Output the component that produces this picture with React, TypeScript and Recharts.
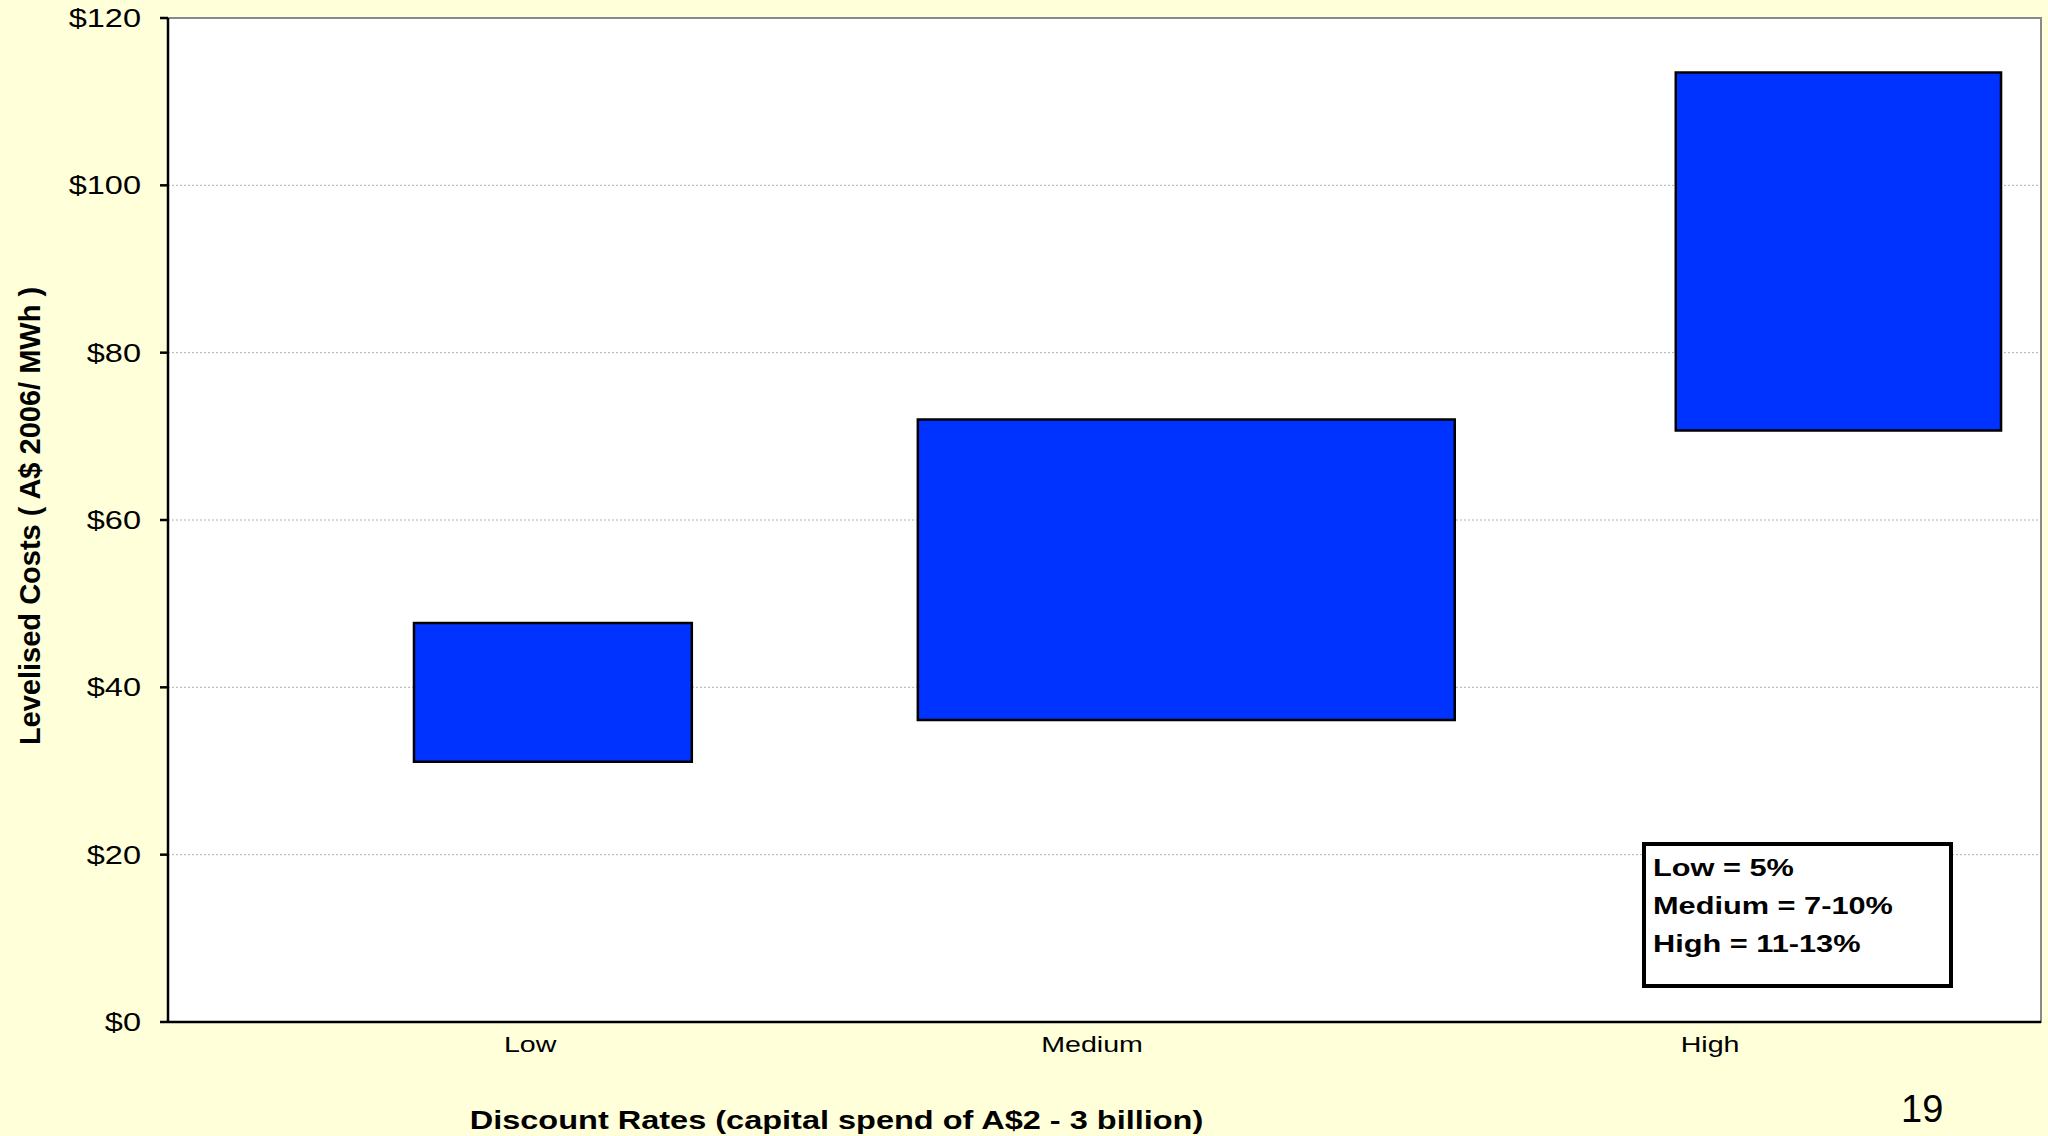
import React from "react"
import { ComposedChart, XAxis, YAxis, CartesianGrid, ReferenceArea, Label } from "recharts"

// discount-rate cases and where their labels sit on the x scale (0..3)
const categories = ["Low", "Medium", "High"]
const categoryPos = [0.58, 1.48, 2.47]

// horizontal extent of each cost band on the same x scale
const bandStart = [0.394, 1.201, 2.415]
const bandEnd = [0.839, 2.061, 2.936]

// levelised cost range, A$ 2006 / MWh
const costLow = [31.1, 36.1, 70.7]
const costHigh = [47.7, 72.0, 113.5]

const yTicks = [0, 20, 40, 60, 80, 100, 120]

const legendLines = ["Low = 5%", "Medium = 7-10%", "High = 11-13%"]

const FONT = "'Liberation Sans', Arial, sans-serif"
const BG = "#FFFFD9"
// the slide text is a little wide, so stretch it horizontally
const STRETCH = 1.3

const XTick = (props: any) => {
  const { x, y, payload } = props
  const label = categories[categoryPos.indexOf(payload.value)] ?? ""
  return (
    <g transform={`translate(${x},${y}) scale(${STRETCH},1)`}>
      <text x={0} y={0} dy="0.71em" textAnchor="middle" fontSize={22} fontFamily={FONT} fill="#000">
        {label}
      </text>
    </g>
  )
}

const YTick = (props: any) => {
  const { x, y, payload } = props
  return (
    <g transform={`translate(${x},${y}) scale(${STRETCH},1)`}>
      <text x={0} y={0} dy="0.355em" textAnchor="end" fontSize={25} fontFamily={FONT} fill="#000">
        {`$${payload.value}`}
      </text>
    </g>
  )
}

const XTitle = (props: any) => {
  const { viewBox } = props
  const cx = viewBox.x + viewBox.width / 2 - 268
  const by = viewBox.y + viewBox.height - 7
  return (
    <g transform={`translate(${cx},${by}) scale(${STRETCH},1)`}>
      <text x={0} y={0} textAnchor="middle" fontSize={25} fontWeight="bold" fontFamily={FONT} fill="#000">
        Discount Rates (capital spend of A$2 - 3 billion)
      </text>
    </g>
  )
}

const App = () => {
  const rows = categories.map((name, i) => ({
    name,
    pos: categoryPos[i],
    x1: bandStart[i],
    x2: bandEnd[i],
    low: costLow[i],
    high: costHigh[i],
  }))

  return (
    <div
      style={{
        position: "absolute",
        left: 0,
        top: 0,
        width: 2048,
        height: 1136,
        background: BG,
        fontFamily: FONT,
      }}
    >
      <ComposedChart
        width={2048}
        height={1136}
        data={rows}
        margin={{ top: 18, right: 7, bottom: 0, left: 0 }}
      >
        <CartesianGrid
          vertical={false}
          horizontalValues={[20, 40, 60, 80, 100]}
          stroke="#b0b0b0"
          strokeDasharray="2 2"
          fill="#ffffff"
        />
        <ReferenceArea
          x1={0}
          x2={3}
          y1={0}
          y2={120}
          fill="none"
          stroke="#8a8a8a"
          strokeWidth={2}
        />
        {rows.map((r) => (
          <ReferenceArea
            key={r.name}
            x1={r.x1}
            x2={r.x2}
            y1={r.low}
            y2={r.high}
            fill="#0033FF"
            fillOpacity={1}
            stroke="#000000"
            strokeWidth={2.5}
          />
        ))}
        <XAxis
          type="number"
          dataKey="pos"
          domain={[0, 3]}
          ticks={categoryPos}
          allowDataOverflow
          height={114}
          tickLine={false}
          tickSize={0}
          tickMargin={14}
          axisLine={{ stroke: "#000000", strokeWidth: 2.5 }}
          tick={<XTick />}
        >
          <Label content={<XTitle />} />
        </XAxis>
        <YAxis
          type="number"
          dataKey="high"
          domain={[0, 120]}
          ticks={yTicks}
          interval={0}
          allowDataOverflow
          width={168}
          tickSize={8}
          tickMargin={19}
          tickLine={{ stroke: "#000000", strokeWidth: 2.5 }}
          axisLine={{ stroke: "#000000", strokeWidth: 2.5 }}
          tick={<YTick />}
        >
          <Label
            value="Levelised Costs ( A$ 2006/ MWh )"
            angle={-90}
            position="center"
            dx={-54}
            dy={-4}
            style={{ fontSize: 29, fontWeight: "bold", fill: "#000000", fontFamily: FONT }}
          />
        </YAxis>
      </ComposedChart>

      <div
        style={{
          position: "absolute",
          left: 1642,
          top: 842,
          width: 303,
          height: 138,
          border: "4px solid #000000",
          background: "#ffffff",
        }}
      >
        {legendLines.map((t, i) => (
          <div
            key={t}
            style={{
              position: "absolute",
              left: 7,
              top: 3 + i * 38,
              fontSize: 24,
              fontWeight: "bold",
              lineHeight: "38px",
              color: "#000000",
              whiteSpace: "nowrap",
              transform: "scaleX(1.28)",
              transformOrigin: "left center",
            }}
          >
            {t}
          </div>
        ))}
      </div>

      <div
        style={{
          position: "absolute",
          left: 1901,
          top: 1090,
          fontSize: 38,
          lineHeight: "38px",
          color: "#000000",
        }}
      >
        19
      </div>
    </div>
  )
}

export default App
